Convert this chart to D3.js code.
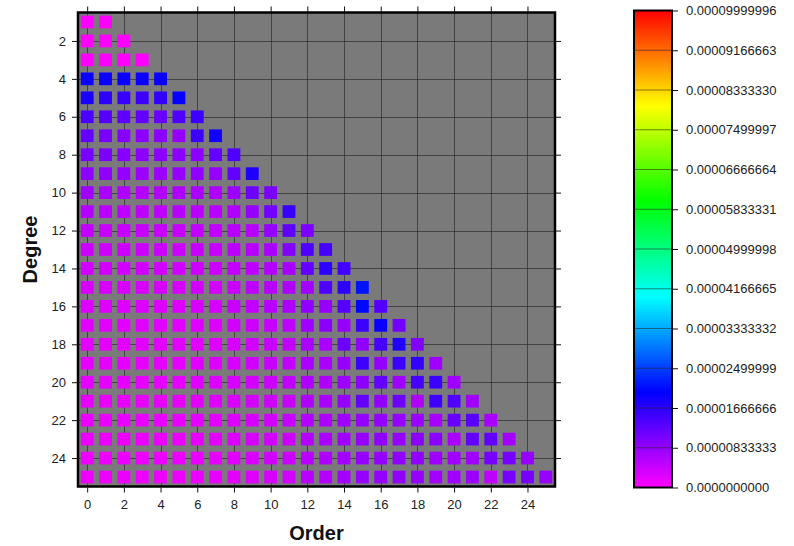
<!DOCTYPE html>
<html>
<head>
<meta charset="utf-8">
<script src="https://cdn.jsdelivr.net/npm/d3@7"></script>
<style>
  body { margin: 0; background: #fff; }
  svg { display: block; font-family: "Liberation Sans", Arial, Helvetica, sans-serif; }
</style>
</head>
<body>
<svg id="chart" width="794" height="546"></svg>
<script>
// Spherical-harmonic coefficient map: one row per degree, one entry per order (0..degree).
// Values are given in units of 1e-6.
const UNIT = 1e-6;
const degrees = [1, 2, 3, 4, 5, 6, 7, 8, 9, 10, 11, 12, 13, 14, 15, 16, 17, 18, 19, 20, 21, 22, 23, 24, 25];
const rowValues = [
  [0, 0],
  [0, 0, 0],
  [0, 0, 0, 0],
  [19.3, 19.2, 19.2, 19.1, 19.2],
  [18.0, 16.5, 15.7, 15.3, 16.1, 19.6],
  [14.1, 13.3, 12.5, 12.2, 11.8, 13.7, 15.3],
  [12.2, 10.6, 9.4, 9.0, 9.0, 8.2, 15.3, 18.8],
  [10.6, 10.2, 9.4, 9.0, 9.0, 9.0, 9.0, 12.2, 13.7],
  [9.0, 8.6, 8.2, 7.8, 7.8, 8.2, 8.6, 8.2, 12.2, 17.6],
  [7.5, 6.7, 6.3, 5.9, 5.9, 6.3, 6.7, 6.3, 7.8, 11.4, 10.2],
  [5.9, 5.5, 5.1, 5.1, 5.1, 5.5, 5.5, 5.5, 6.3, 8.2, 11.0, 15.7],
  [4.7, 4.3, 4.3, 4.3, 4.3, 4.3, 4.7, 4.7, 5.5, 5.5, 8.2, 12.5, 10.2],
  [3.9, 3.9, 3.9, 3.9, 3.9, 3.9, 4.3, 4.3, 5.1, 5.5, 6.7, 9.8, 13.7, 14.5],
  [3.5, 3.5, 3.5, 3.5, 3.5, 3.5, 3.9, 3.9, 4.7, 5.1, 5.9, 6.7, 12.2, 16.5, 14.9],
  [3.1, 3.1, 3.1, 3.1, 3.1, 3.1, 3.5, 3.5, 4.3, 5.1, 5.5, 6.3, 7.1, 13.7, 16.5, 21.5],
  [2.7, 2.7, 2.7, 2.7, 2.7, 2.7, 3.1, 3.1, 4.3, 4.7, 5.5, 6.3, 8.6, 8.2, 13.3, 20.5, 13.3],
  [2.3, 2.3, 2.3, 2.3, 2.3, 2.3, 2.5, 2.7, 3.5, 3.9, 4.3, 5.1, 7.5, 9.0, 8.2, 15.3, 19.2, 11.0],
  [2.1, 2.1, 2.1, 2.1, 2.1, 2.1, 2.3, 2.6, 3.1, 3.5, 4.3, 4.7, 6.7, 6.7, 11.4, 8.6, 14.5, 17.3, 9.8],
  [2.0, 2.0, 2.0, 2.0, 2.0, 2.0, 2.4, 2.6, 3.1, 3.5, 4.3, 4.7, 6.7, 6.7, 8.2, 15.3, 8.2, 15.3, 16.1, 7.5],
  [2.0, 2.0, 2.0, 2.0, 2.0, 2.0, 2.4, 2.6, 3.1, 3.4, 3.9, 4.7, 6.3, 6.3, 7.8, 9.0, 12.2, 7.5, 14.5, 15.3, 7.5],
  [1.8, 1.8, 1.8, 1.8, 1.8, 1.8, 2.1, 2.4, 2.9, 3.4, 3.9, 4.3, 6.3, 6.7, 8.2, 12.2, 8.6, 11.4, 6.3, 15.0, 13.7, 7.5],
  [1.7, 1.7, 1.7, 1.7, 1.7, 1.7, 2.0, 2.2, 2.7, 3.1, 3.5, 4.3, 5.9, 6.3, 7.5, 8.2, 8.2, 8.2, 7.8, 7.0, 11.8, 13.0, 6.7],
  [1.6, 1.6, 1.6, 1.6, 1.6, 1.6, 1.8, 2.1, 2.6, 3.1, 3.5, 3.9, 5.9, 6.7, 7.5, 8.2, 8.6, 8.2, 9.0, 9.0, 6.7, 12.2, 12.2, 7.1],
  [1.4, 1.4, 1.4, 1.4, 1.4, 1.4, 1.7, 2.0, 2.4, 2.9, 3.5, 3.9, 5.5, 6.3, 7.1, 8.2, 8.2, 8.6, 8.6, 7.6, 7.5, 7.5, 10.6, 10.6, 8.2],
  [1.3, 1.3, 1.3, 1.3, 1.3, 1.3, 1.6, 1.8, 2.2, 2.7, 3.1, 3.5, 5.5, 5.9, 7.1, 8.2, 8.2, 8.6, 8.2, 7.3, 7.5, 7.8, 5.1, 10.6, 10.6, 8.2]
];

const orderTicks = [0, 2, 4, 6, 8, 10, 12, 14, 16, 18, 20, 22, 24];
const degreeTicks = [2, 4, 6, 8, 10, 12, 14, 16, 18, 20, 22, 24];
const colorbarLabels = [
  "0.0000000000", "0.00000833333", "0.00001666666", "0.00002499999",
  "0.00003333332", "0.00004166665", "0.00004999998", "0.00005833331",
  "0.00006666664", "0.00007499997", "0.00008333330", "0.00009166663",
  "0.00009999996"
];
const colorStops = [0, 2e-5, 4e-5, 6e-5, 8e-5, 1e-4];
const colorRamp = ["#ff00ff", "#0000ff", "#00ffff", "#00ff00", "#ffff00", "#ff0000"];

// flatten to cells
const cells = [];
degrees.forEach((deg, i) => {
  rowValues[i].forEach((v, order) => cells.push({ degree: deg, order: order, value: v * UNIT }));
});

const svg = d3.select("#chart");

const plot = { left: 78, right: 555, top: 12.5, bottom: 486.5 };
const x = d3.scaleLinear().domain([-0.5, 25.5]).range([plot.left, plot.right]);
const y = d3.scaleLinear().domain([0.5, 25.5]).range([plot.top, plot.bottom]);
const color = d3.scaleLinear().domain(colorStops).range(colorRamp).clamp(true);

// background
svg.append("rect")
  .attr("x", plot.left).attr("y", plot.top)
  .attr("width", plot.right - plot.left).attr("height", plot.bottom - plot.top)
  .attr("fill", "#7a7a7a");

// grid lines
const grid = svg.append("g").attr("stroke", "#262626").attr("stroke-opacity", 0.65).attr("stroke-width", 1);
grid.selectAll("line.v").data(orderTicks).join("line")
  .attr("class", "v")
  .attr("x1", d => Math.round(x(d)) + 0.5).attr("x2", d => Math.round(x(d)) + 0.5)
  .attr("y1", plot.top).attr("y2", plot.bottom);
grid.selectAll("line.h").data(degreeTicks).join("line")
  .attr("class", "h")
  .attr("y1", d => Math.round(y(d)) + 0.5).attr("y2", d => Math.round(y(d)) + 0.5)
  .attr("x1", plot.left).attr("x2", plot.right);

// cells
const cw = 0.7 * (x(1) - x(0));
const ch = 0.67 * (y(1) - y(0));
svg.append("g").selectAll("rect").data(cells).join("rect")
  .attr("x", d => x(d.order) - cw / 2)
  .attr("y", d => y(d.degree) - ch / 2)
  .attr("width", cw).attr("height", ch)
  .attr("fill", d => color(d.value));

// axes
const tickFont = g => g.selectAll("text").attr("font-size", 13).attr("fill", "#222");
const styleAxis = g => {
  g.select(".domain").remove();
  g.selectAll(".tick line").attr("stroke", "#111").attr("stroke-width", 1);
  tickFont(g);
};
svg.append("g").attr("transform", `translate(0,${plot.bottom + 1})`)
  .call(d3.axisBottom(x).tickValues(orderTicks).tickSize(5).tickPadding(7))
  .call(styleAxis);
svg.append("g").attr("transform", `translate(0,${plot.top - 1})`)
  .call(d3.axisTop(x).tickValues(orderTicks).tickSize(5).tickFormat(""))
  .call(styleAxis);
svg.append("g").attr("transform", `translate(${plot.left - 1},0)`)
  .call(d3.axisLeft(y).tickValues(degreeTicks).tickSize(5).tickPadding(6))
  .call(styleAxis);
svg.append("g").attr("transform", `translate(${plot.right + 1},0)`)
  .call(d3.axisRight(y).tickValues(degreeTicks).tickSize(5).tickFormat(""))
  .call(styleAxis);

// frame
svg.append("rect")
  .attr("x", plot.left).attr("y", plot.top)
  .attr("width", plot.right - plot.left).attr("height", plot.bottom - plot.top)
  .attr("fill", "none").attr("stroke", "#000").attr("stroke-width", 2.5);

// axis titles
svg.append("text")
  .attr("x", (plot.left + plot.right) / 2).attr("y", 540)
  .attr("text-anchor", "middle").attr("font-size", 20).attr("font-weight", "bold").attr("fill", "#111")
  .text("Order");
svg.append("text")
  .attr("transform", `translate(37,${(plot.top + plot.bottom) / 2}) rotate(-90)`)
  .attr("text-anchor", "middle").attr("font-size", 20).attr("font-weight", "bold").attr("fill", "#111")
  .text("Degree");

// colour bar
const cb = { left: 634, right: 672, top: 10.5, bottom: 487.5 };
const cbY = d3.scaleLinear().domain([0, 1e-4]).range([cb.bottom, cb.top]);
const defs = svg.append("defs");
const grad = defs.append("linearGradient").attr("id", "cbGrad")
  .attr("x1", 0).attr("y1", 1).attr("x2", 0).attr("y2", 0);
grad.selectAll("stop").data(colorStops).join("stop")
  .attr("offset", d => d / 1e-4)
  .attr("stop-color", d => color(d));
svg.append("rect")
  .attr("x", cb.left).attr("y", cb.top)
  .attr("width", cb.right - cb.left).attr("height", cb.bottom - cb.top)
  .attr("fill", "url(#cbGrad)");
const cbVals = colorbarLabels.map(s => ({ label: s, v: parseFloat(s) }));
svg.append("g").selectAll("line").data(cbVals).join("line")
  .attr("x1", cb.left).attr("x2", cb.right)
  .attr("y1", d => cbY(d.v)).attr("y2", d => cbY(d.v))
  .attr("stroke", "#222").attr("stroke-opacity", 0.55).attr("stroke-width", 1);
svg.append("rect")
  .attr("x", cb.left).attr("y", cb.top)
  .attr("width", cb.right - cb.left).attr("height", cb.bottom - cb.top)
  .attr("fill", "none").attr("stroke", "#000").attr("stroke-width", 2);
svg.append("g").attr("transform", `translate(${cb.right + 1},0)`)
  .call(d3.axisRight(cbY).tickValues(cbVals.map(d => d.v)).tickSize(5).tickPadding(8)
    .tickFormat((d, i) => cbVals[i].label))
  .call(styleAxis);
</script>
</body>
</html>
